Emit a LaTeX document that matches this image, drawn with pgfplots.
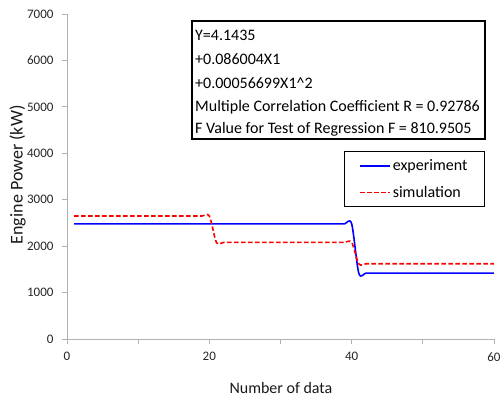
\documentclass[border=0pt]{standalone}
\usepackage{pgfplots}
\usepackage{pgfplotstable}
\pgfplotsset{compat=1.18}
\usepackage{fontspec}
\setmainfont{Carlito}

\pgfplotstableread{
x exp sim
1 2480 2650
2 2480 2650
3 2480 2650
4 2480 2650
5 2480 2650
6 2480 2650
7 2480 2650
8 2480 2650
9 2480 2650
10 2480 2650
11 2480 2650
12 2480 2650
13 2480 2650
14 2480 2650
15 2480 2650
16 2480 2650
17 2480 2650
18 2480 2650
19 2480 2650
20 2480 2650
21 2480 2080
22 2480 2080
23 2480 2080
24 2480 2080
25 2480 2080
26 2480 2080
27 2480 2080
28 2480 2080
29 2480 2080
30 2480 2080
31 2480 2080
32 2480 2080
33 2480 2080
34 2480 2080
35 2480 2080
36 2480 2080
37 2480 2080
38 2480 2080
39 2480 2080
40 2480 2080
41 1420 1620
42 1420 1620
43 1420 1620
44 1420 1620
45 1420 1620
46 1420 1620
47 1420 1620
48 1420 1620
49 1420 1620
50 1420 1620
51 1420 1620
52 1420 1620
53 1420 1620
54 1420 1620
55 1420 1620
56 1420 1620
57 1420 1620
58 1420 1620
59 1420 1620
60 1420 1620
}\datatable

\begin{document}
\begin{tikzpicture}[x=1pt,y=1pt]
\useasboundingbox (0,0) rectangle (501,396);
\begin{axis}[
  at={(67pt,57pt)}, anchor=south west,
  scale only axis, width=427pt, height=325pt,
  xmin=0, xmax=60, ymin=0, ymax=7000,
  axis lines*=left,
  axis line style={black!30, line width=0.8pt},
  tick style={black!30, line width=0.8pt},
  tick align=outside,
  major tick length=5pt,
  xtick={0,10,...,60},
  xticklabels={0,,20,,40,,60},
  ytick={0,1000,...,7000},
  /pgf/number format/1000 sep={},
  /pgf/number format/assume math mode=true,
  ticklabel style={font=\fontsize{13}{15}\selectfont, text=black!85},
  yticklabel style={xshift=-5pt},
  xticklabel style={yshift=-5pt},
  xlabel={Number of data},
  ylabel={Engine Power (kW)},
  xlabel style={at={(axis description cs:0.501,-0.150)}, anchor=center, font=\fontsize{16}{18}\selectfont, text=black!90},
  ylabel style={at={(axis description cs:-0.116,0.505)}, anchor=center, font=\fontsize{18}{20}\selectfont, text=black!90},
  legend style={at={(0.979,0.5785)}, anchor=north east, draw=black, line width=1.2pt,
    font=\fontsize{16}{18}\selectfont, row sep=10pt, inner xsep=15pt, inner ysep=6pt},
  legend cell align=left,
  legend image code/.code={\draw[#1, line width=1.5pt] (0pt,0pt) -- (30pt,0pt);},
]
\addplot[blue, line width=1.6pt, smooth, tension=0.5] table[x=x, y=exp] {\datatable};
\addlegendentry{experiment}
\addplot[red, line width=1.6pt, dash pattern=on 4.5pt off 2.5pt, smooth, tension=0.5] table[x=x, y=sim] {\datatable};
\addlegendentry{simulation}
\end{axis}
\draw[black, line width=1.2pt] (192,257) rectangle (485,375);
\begin{scope}[every node/.style={anchor=base west, inner sep=0pt, font=\fontsize{16}{18}\selectfont}]
\node at (195,355) {Y=4.1435};
\node at (195,331) {+0.086004X1};
\node at (195,307) {+0.00056699X1\^{}2};
\node at (195,284) {Multiple Correlation Coefficient R = 0.92786};
\node at (195,262) {F Value for Test of Regression F = 810.9505};
\end{scope}
\end{tikzpicture}
\end{document}
